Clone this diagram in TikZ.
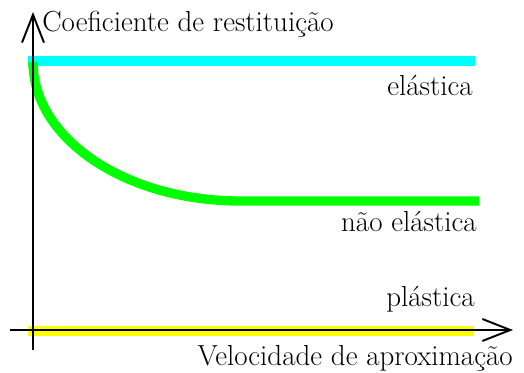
\documentclass[tikz,border=0pt]{standalone}
\usetikzlibrary{arrows.meta}

\begin{document}
\begin{tikzpicture}

    % Colors for the curves
    \definecolor{elasticcyan}{RGB}{0,255,255}
    \definecolor{partgreen}{RGB}{0,255,0}
    \definecolor{plasticyellow}{RGB}{255,255,0}

    \tikzset{
        curve/.style={line width=5.3pt},
        axis/.style={line width=1.1pt, -{Straight Barb[length=0.56cm, width=0.44cm, line width=1.1pt]}},
        lbl/.style={font=\fontsize{16.5}{20}\selectfont, inner sep=0pt}
    }

    \useasboundingbox (-0.66,-0.86) rectangle (9.82,6.6);

    % Elastic line
    \draw[curve, elasticcyan] (-0.1,5.38) -- (8.84,5.38);

    % Non elastic curve
    \draw[curve, partgreen] (0,5.36) arc[start angle=180, end angle=270, x radius=4.14cm, y radius=2.78cm] -- (8.92,2.58);

    % Plastic line
    \draw[curve, plasticyellow] (-0.1,-0.02) -- (8.82,-0.02);

    % Axes
    \coordinate (ybot) at (0,-0.4);
    \coordinate (ytop) at (0,6.36);
    \coordinate (xleft) at (-0.46,0);
    \coordinate (xright) at (9.6,0);
    \draw[axis] (ybot) -- (ytop);
    \draw[axis] (xleft) -- (xright);

    % Labels
    \node[lbl, anchor=base west] (ylabel) at (0.18,5.97) {Coeficiente de restituição};
    \node[lbl, anchor=base east] (xlabel) at (9.6,-0.72) {Velocidade de aproximação};
    \node[lbl, anchor=base east] (elastica) at (8.8,4.68) {elástica};
    \node[lbl, anchor=base east] (naoelastica) at (8.88,1.96) {não elástica};
    \node[lbl, anchor=base east] (plastica) at (8.84,0.46) {plástica};

\end{tikzpicture}
\end{document}
